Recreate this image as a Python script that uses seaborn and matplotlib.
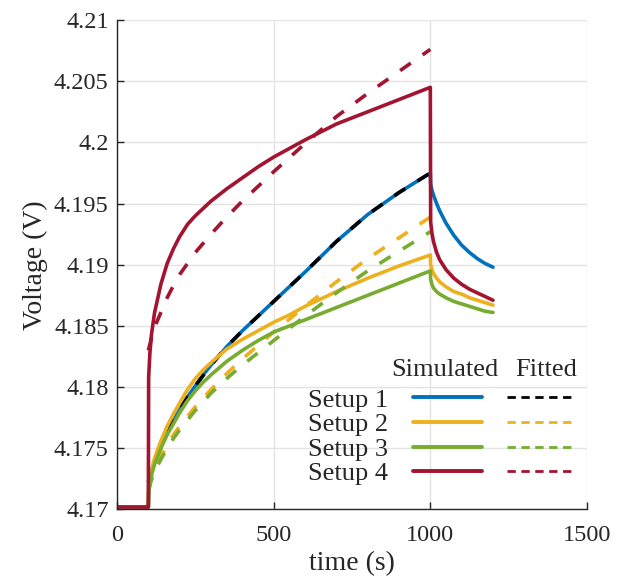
import numpy as np
import pandas as pd
import matplotlib
matplotlib.use("Agg")
import matplotlib.pyplot as plt
from matplotlib.lines import Line2D
from matplotlib.ticker import FuncFormatter
import seaborn as sns

# temps des courbes simulées (s)
t_sim = [0, 100, 101, 105, 110, 120, 140, 160, 180, 200, 225, 250, 275, 300, 350, 400,
         450, 500, 550, 600, 700, 800, 900, 1000, 1001, 1005, 1010, 1020, 1030, 1050,
         1075, 1100, 1125, 1150, 1175, 1200]
sim_1 = [4.1702, 4.1702, 4.1712, 4.1722, 4.1731, 4.1740, 4.1752, 4.1763, 4.1773, 4.1782,
         4.1792, 4.1801, 4.1810, 4.1818, 4.1833, 4.1846, 4.1858, 4.1870, 4.1882, 4.1894,
         4.1919, 4.1941, 4.1959, 4.1975, 4.1966, 4.1961, 4.1957, 4.1950, 4.1944, 4.1934,
         4.1924, 4.1916, 4.1910, 4.1905, 4.1901, 4.1898]
sim_2 = [4.1702, 4.1702, 4.1715, 4.1725, 4.1732, 4.1742, 4.1756, 4.1768, 4.1778, 4.1787,
         4.1798, 4.1807, 4.1814, 4.1820, 4.1831, 4.1839, 4.1846, 4.1853, 4.1859, 4.1866,
         4.1878, 4.1889, 4.1899, 4.1908, 4.1900, 4.1896, 4.1893, 4.1889, 4.1886, 4.1882,
         4.1878, 4.1876, 4.1873, 4.1871, 4.1869, 4.1867]
sim_3 = [4.1702, 4.1702, 4.1714, 4.1722, 4.1728, 4.1737, 4.1750, 4.1761, 4.1770, 4.1779,
         4.1789, 4.1797, 4.1804, 4.1810, 4.1821, 4.1830, 4.1838, 4.1845, 4.1850, 4.1855,
         4.1865, 4.1875, 4.1885, 4.1895, 4.1888, 4.1884, 4.1881, 4.1878, 4.1876, 4.1873,
         4.1870, 4.1868, 4.1866, 4.1864, 4.1862, 4.1861]
sim_4 = [4.1702, 4.1702, 4.1808, 4.1828, 4.1843, 4.1861, 4.1884, 4.1901, 4.1913, 4.1923,
         4.1933, 4.1940, 4.1946, 4.1952, 4.1962, 4.1971, 4.1980, 4.1988, 4.1995, 4.2002,
         4.2015, 4.2025, 4.2035, 4.2045, 4.1935, 4.1926, 4.1919, 4.1910, 4.1904, 4.1896,
         4.1889, 4.1884, 4.1880, 4.1877, 4.1874, 4.1871]

# temps des courbes ajustées (s)
t_fit = [100, 110, 120, 140, 160, 180, 200, 250, 300, 350, 400, 500, 600, 700, 800, 900, 1000]
fit_1 = [4.1722, 4.1730, 4.1738, 4.1751, 4.1763, 4.1773, 4.1782, 4.1801, 4.1818, 4.1833,
         4.1846, 4.1870, 4.1894, 4.1919, 4.1941, 4.1959, 4.1975]
fit_2 = [4.1718, 4.1726, 4.1733, 4.1743, 4.1753, 4.1761, 4.1768, 4.1784, 4.1798, 4.1811,
         4.1823, 4.1845, 4.1866, 4.1886, 4.1905, 4.1922, 4.1939]
fit_3 = [4.1716, 4.1724, 4.1731, 4.1741, 4.1750, 4.1758, 4.1765, 4.1781, 4.1795, 4.1807,
         4.1818, 4.1838, 4.1858, 4.1877, 4.1895, 4.1911, 4.1927]
fit_4 = [4.1830, 4.1840, 4.1849, 4.1861, 4.1873, 4.1883, 4.1892, 4.1910, 4.1925, 4.1939,
         4.1952, 4.1976, 4.1999, 4.2021, 4.2040, 4.2058, 4.2076]

setups = ["Setup 1", "Setup 2", "Setup 3", "Setup 4"]
sim_colors = ["#0072BD", "#EDB120", "#77AC30", "#A2142F"]
fit_colors = ["#000000", "#EDB120", "#77AC30", "#A2142F"]

sns.set_style("ticks")
plt.rcParams["font.family"] = ["Liberation Serif", "DejaVu Serif"]

fig = plt.figure(figsize=(6.27, 5.82), dpi=100)
ax = fig.add_axes([0.1866, 0.1246, 0.7496, 0.841])

for sim, fit, cs, cf in zip([sim_1, sim_2, sim_3, sim_4], [fit_1, fit_2, fit_3, fit_4],
                            sim_colors, fit_colors):
    sns.lineplot(x=t_sim, y=sim, ax=ax, color=cs, lw=2.6, estimator=None, sort=False)
    sns.lineplot(x=t_fit, y=fit, ax=ax, color=cf, lw=2.6, estimator=None, sort=False)
    ax.lines[-1].set_dashes((3.6, 4.0))

ax.set_xlim(0, 1500)
ax.set_ylim(4.17, 4.21)
ax.set_xticks([0, 500, 1000, 1500])
ax.set_yticks(np.arange(4.17, 4.2101, 0.005))
ax.yaxis.set_major_formatter(FuncFormatter(lambda v, p: f"{v:.3f}".rstrip("0").rstrip(".")))
ax.grid(True, color="#e3e3e3", lw=1.0)
ax.set_axisbelow(True)
for s in ["top", "right"]:
    ax.spines[s].set_visible(False)
for s in ["left", "bottom"]:
    ax.spines[s].set_color("#262626")
    ax.spines[s].set_linewidth(1.0)
ax.tick_params(direction="in", length=5, width=1, color="#262626", labelsize=17.5,
               labelcolor="#262626")
ax.tick_params(axis="y", pad=6)
ax.tick_params(axis="x", pad=11)
ax.set_xlabel("time (s)", fontsize=20, color="#262626", labelpad=4)
ax.set_ylabel("Voltage (V)", fontsize=20, color="#262626", labelpad=4)

# légende façon tableau : Simulated / Fitted
h_sim = [Line2D([], [], color=c, lw=2.8) for c in sim_colors]
h_fit = [Line2D([], [], color=c, lw=2.0, dashes=(3.0, 2.0)) for c in fit_colors]
leg = ax.legend(h_sim + h_fit, setups + [""] * 4, ncol=2, markerfirst=False,
                loc="upper left", bbox_to_anchor=(0.406, 0.2477), frameon=False,
                fontsize=19, handlelength=2.62, handletextpad=0.95, columnspacing=0.0,
                labelspacing=0.04, borderpad=0, borderaxespad=0)
for txt in leg.get_texts():
    txt.set_color("#262626")
ax.text(0.5845, 0.285, "Simulated", transform=ax.transAxes, fontsize=19,
        va="center", ha="left", color="#262626")
ax.text(0.8468, 0.285, "Fitted", transform=ax.transAxes, fontsize=19,
        va="center", ha="left", color="#262626")

fig.savefig("out.png", dpi=100)
